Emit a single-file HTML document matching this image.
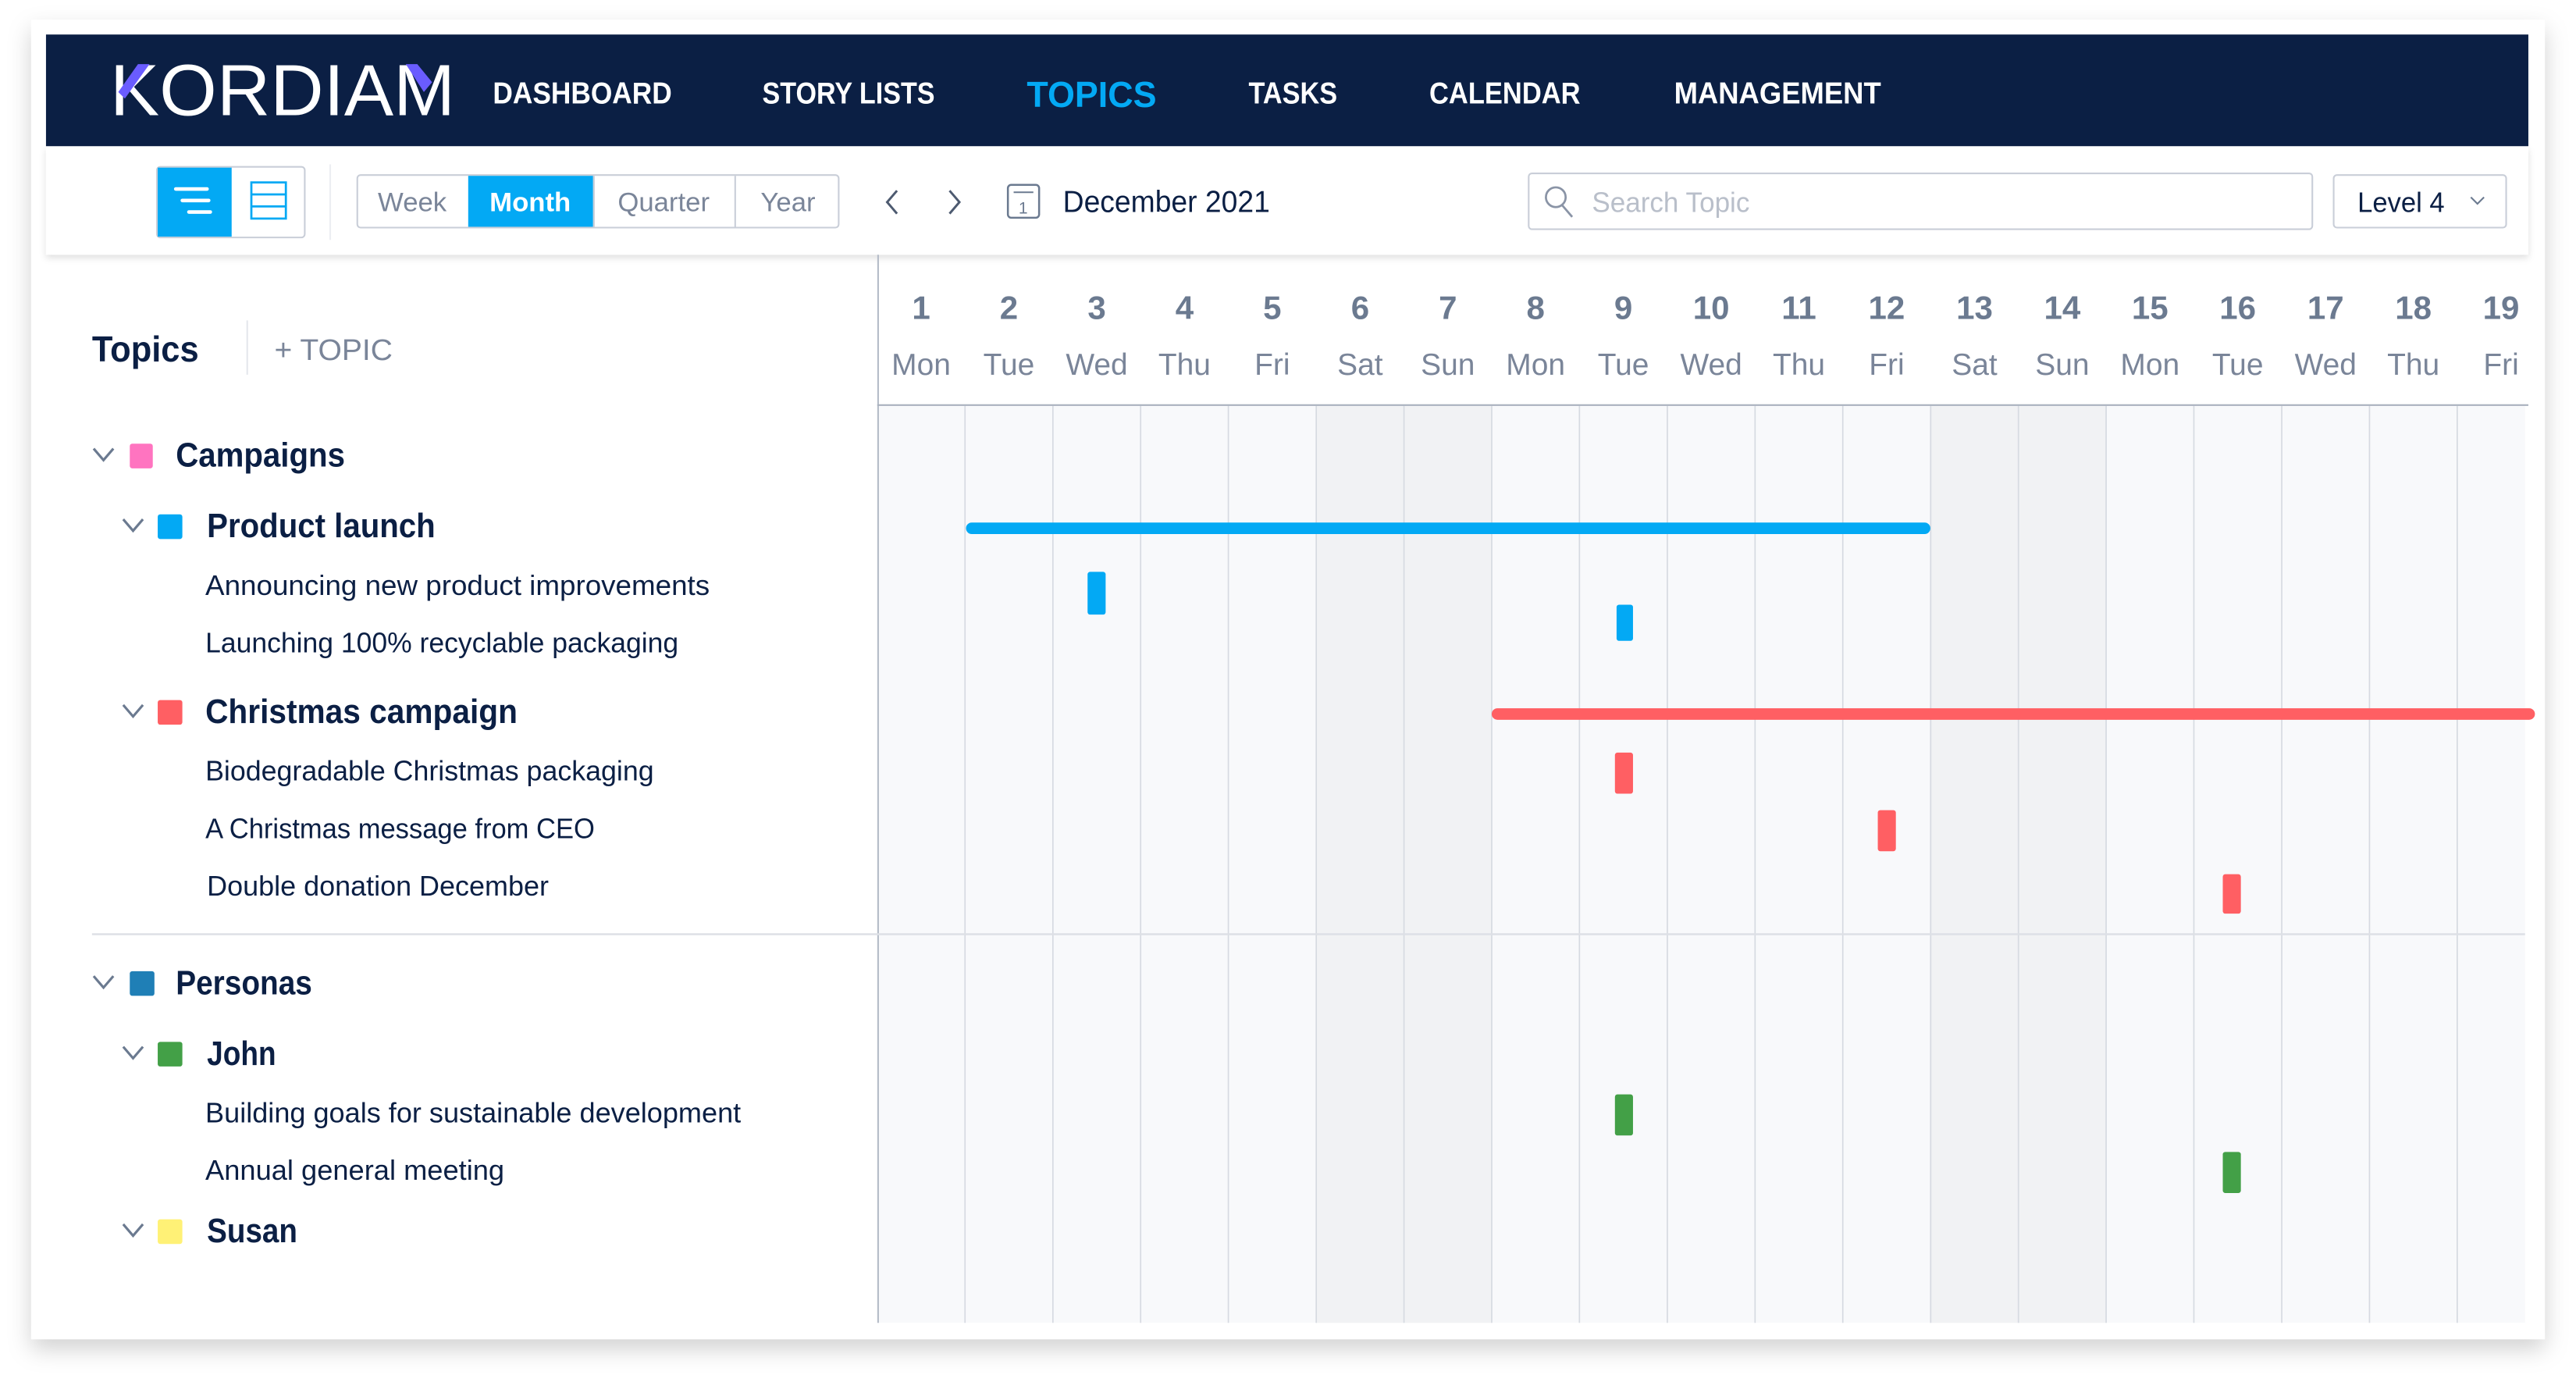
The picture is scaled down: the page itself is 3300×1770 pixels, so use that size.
<!DOCTYPE html>
<html><head><meta charset="utf-8"><style>
html,body{margin:0;padding:0;background:#fff;width:3300px;height:1770px;overflow:hidden}
svg{display:block}
text{font-family:"Liberation Sans",sans-serif}
</style></head><body>
<svg width="3300" height="1770" viewBox="0 0 1568 841" xmlns="http://www.w3.org/2000/svg">
<defs>
<filter id="sh" x="-5%" y="-5%" width="110%" height="115%"><feDropShadow dx="0" dy="6" stdDeviation="7" flood-color="#000" flood-opacity="0.18"/></filter>
<filter id="sh2" x="-5%" y="-50%" width="110%" height="200%"><feDropShadow dx="0" dy="2" stdDeviation="2" flood-color="#000" flood-opacity="0.12"/></filter>
</defs>
<rect width="1568" height="841" fill="#fff"/>
<rect x="19" y="12" width="1530" height="803" fill="#fff" filter="url(#sh)"/>
<!-- nav -->
<rect x="28" y="21" width="1511" height="68" fill="#0b1f44"/>
<text x="67" y="70" font-size="44" fill="#fff" textLength="210" lengthAdjust="spacingAndGlyphs">KORDIAM</text>
<path d="M72 56 L84 39 L91 39 L76 60 Z" fill="#6a5cff"/>
<path d="M247 39 L258 56 L263 50 L254 39 Z" fill="#6a5cff"/>
<g font-size="18.5" font-weight="bold" fill="#fff">
<text x="300" y="63" textLength="109" lengthAdjust="spacingAndGlyphs">DASHBOARD</text>
<text x="464" y="63" textLength="105" lengthAdjust="spacingAndGlyphs">STORY LISTS</text>
<text x="625" y="65" font-size="22" fill="#03a9f4" textLength="79" lengthAdjust="spacingAndGlyphs">TOPICS</text>
<text x="760" y="63" textLength="54" lengthAdjust="spacingAndGlyphs">TASKS</text>
<text x="870" y="63" textLength="92" lengthAdjust="spacingAndGlyphs">CALENDAR</text>
<text x="1019" y="63" textLength="126" lengthAdjust="spacingAndGlyphs">MANAGEMENT</text>
</g>
<!-- toolbar -->
<rect x="28" y="89" width="1511" height="66" fill="#fff" filter="url(#sh2)"/>
<rect x="95.5" y="101.5" width="90" height="43" rx="2" fill="#fff" stroke="#c9ced8"/>
<rect x="96" y="102" width="45" height="42" fill="#03a9f4"/>
<g stroke="#fff" stroke-width="2.2" stroke-linecap="round"><line x1="107" y1="115" x2="126" y2="115"/><line x1="111" y1="122" x2="127" y2="122"/><line x1="115" y1="129" x2="128" y2="129"/></g>
<g fill="none" stroke="#03a9f4" stroke-width="1.3"><rect x="153" y="111" width="21" height="22"/><line x1="153" y1="118.3" x2="174" y2="118.3"/><line x1="153" y1="125.6" x2="174" y2="125.6"/></g>
<line x1="201" y1="100" x2="201" y2="146" stroke="#eceef2"/>
<rect x="217.5" y="106.5" width="293" height="32" rx="2" fill="#fff" stroke="#c9ced8"/>
<rect x="285" y="107" width="76" height="31" fill="#03a9f4"/>
<line x1="361.5" y1="107" x2="361.5" y2="138" stroke="#c9ced8"/>
<line x1="447.5" y1="107" x2="447.5" y2="138" stroke="#c9ced8"/>
<g font-size="16.5" fill="#7a8599">
<text x="230" y="128.5">Week</text>
<text x="298" y="128.5" fill="#fff" font-weight="bold">Month</text>
<text x="376" y="128.5">Quarter</text>
<text x="463" y="128.5">Year</text>
</g>
<g fill="none" stroke="#4d5a70" stroke-width="1.4"><polyline points="546,116 540,123 546,130"/><polyline points="578,116 584,123 578,130"/></g>
<rect x="613.5" y="112.5" width="19" height="20" rx="2" fill="none" stroke="#6b7a90" stroke-width="1.2"/>
<line x1="617" y1="117" x2="629" y2="117" stroke="#6b7a90"/>
<text x="620" y="130" font-size="10" fill="#6b7a90">1</text>
<text x="647" y="129" font-size="18.5" fill="#0b1f44" textLength="126" lengthAdjust="spacingAndGlyphs">December 2021</text>
<rect x="930.5" y="105.5" width="477" height="34" rx="2" fill="#fff" stroke="#c9ced8"/>
<circle cx="947" cy="120" r="6" fill="none" stroke="#8a94a6" stroke-width="1.3"/>
<line x1="951" y1="125" x2="957" y2="132" stroke="#8a94a6" stroke-width="1.3"/>
<text x="969" y="129" font-size="17" fill="#b9bfca" textLength="96" lengthAdjust="spacingAndGlyphs">Search Topic</text>
<rect x="1420.5" y="106.5" width="105" height="32" rx="2" fill="#fff" stroke="#c9ced8"/>
<text x="1435" y="129" font-size="17" fill="#0b1f44" textLength="53" lengthAdjust="spacingAndGlyphs">Level 4</text>
<polyline points="1504,120 1508,124 1512,120" fill="none" stroke="#6b7a90"/>
<!-- timeline grid -->
<rect x="534" y="247" width="1003" height="558" fill="#f8f9fb"/>
<rect x="801.2" y="247" width="106.9" height="558" fill="#f1f2f4"/>
<rect x="1175.2" y="247" width="106.9" height="558" fill="#f1f2f4"/>
<g stroke="#d6dae1" stroke-width="0.8">
<line x1="587.4" y1="247" x2="587.4" y2="805"/><line x1="640.9" y1="247" x2="640.9" y2="805"/><line x1="694.3" y1="247" x2="694.3" y2="805"/><line x1="747.7" y1="247" x2="747.7" y2="805"/><line x1="801.2" y1="247" x2="801.2" y2="805"/><line x1="854.6" y1="247" x2="854.6" y2="805"/><line x1="908" y1="247" x2="908" y2="805"/><line x1="961.4" y1="247" x2="961.4" y2="805"/><line x1="1014.9" y1="247" x2="1014.9" y2="805"/><line x1="1068.3" y1="247" x2="1068.3" y2="805"/><line x1="1121.7" y1="247" x2="1121.7" y2="805"/><line x1="1175.2" y1="247" x2="1175.2" y2="805"/><line x1="1228.6" y1="247" x2="1228.6" y2="805"/><line x1="1282" y1="247" x2="1282" y2="805"/><line x1="1335.4" y1="247" x2="1335.4" y2="805"/><line x1="1388.9" y1="247" x2="1388.9" y2="805"/><line x1="1442.3" y1="247" x2="1442.3" y2="805"/><line x1="1495.7" y1="247" x2="1495.7" y2="805"/>
</g>
<line x1="534.5" y1="155" x2="534.5" y2="805" stroke="#b5bcc8" stroke-width="1"/>
<line x1="534" y1="246.5" x2="1539" y2="246.5" stroke="#a9b1be" stroke-width="1"/>
<line x1="56" y1="568.5" x2="1537" y2="568.5" stroke="#dde0e6" stroke-width="1.2"/>
<!-- day headers -->
<g font-size="20" fill="#6b7a90" text-anchor="middle" font-weight="bold">
<text x="560.7" y="194">1</text><text x="614.1" y="194">2</text><text x="667.6" y="194">3</text><text x="721" y="194">4</text><text x="774.4" y="194">5</text><text x="827.9" y="194">6</text><text x="881.3" y="194">7</text><text x="934.7" y="194">8</text><text x="988.1" y="194">9</text><text x="1041.6" y="194">10</text><text x="1095" y="194">11</text><text x="1148.4" y="194">12</text><text x="1201.9" y="194">13</text><text x="1255.3" y="194">14</text><text x="1308.7" y="194">15</text><text x="1362.1" y="194">16</text><text x="1415.6" y="194">17</text><text x="1469" y="194">18</text><text x="1522.4" y="194">19</text>
</g>
<g font-size="18.5" fill="#7a8599" text-anchor="middle">
<text x="560.7" y="228">Mon</text><text x="614.1" y="228">Tue</text><text x="667.6" y="228">Wed</text><text x="721" y="228">Thu</text><text x="774.4" y="228">Fri</text><text x="827.9" y="228">Sat</text><text x="881.3" y="228">Sun</text><text x="934.7" y="228">Mon</text><text x="988.1" y="228">Tue</text><text x="1041.6" y="228">Wed</text><text x="1095" y="228">Thu</text><text x="1148.4" y="228">Fri</text><text x="1201.9" y="228">Sat</text><text x="1255.3" y="228">Sun</text><text x="1308.7" y="228">Mon</text><text x="1362.1" y="228">Tue</text><text x="1415.6" y="228">Wed</text><text x="1469" y="228">Thu</text><text x="1522.4" y="228">Fri</text>
</g>
<!-- bars -->
<rect x="588" y="318" width="587" height="7" rx="3.5" fill="#03a9f4"/>
<rect x="662" y="348" width="11" height="26" rx="1.5" fill="#03a9f4"/>
<rect x="984" y="368" width="10" height="22" rx="1.5" fill="#03a9f4"/>
<rect x="908" y="431" width="635" height="7" rx="3.5" fill="#ff5f63"/>
<rect x="983" y="458" width="11" height="25" rx="1.5" fill="#ff5f63"/>
<rect x="1143" y="493" width="11" height="25" rx="1.5" fill="#ff5f63"/>
<rect x="1353" y="532" width="11" height="24" rx="1.5" fill="#ff5f63"/>
<rect x="983" y="666" width="11" height="25" rx="1.5" fill="#43a047"/>
<rect x="1353" y="701" width="11" height="25" rx="1.5" fill="#43a047"/>
<!-- left panel -->
<text x="56" y="220" font-size="22" font-weight="bold" fill="#0b1f44" textLength="65" lengthAdjust="spacingAndGlyphs">Topics</text>
<line x1="150.5" y1="195" x2="150.5" y2="228" stroke="#e4e7ec"/>
<text x="167" y="219" font-size="18" fill="#7a8599" textLength="72" lengthAdjust="spacingAndGlyphs">+ TOPIC</text>
<g fill="none" stroke="#6b7a90" stroke-width="1.5">
<polyline points="57,273 63,280 69,273"/><polyline points="75,316 81,323 87,316"/><polyline points="75,429 81,436 87,429"/>
<polyline points="57,594 63,601 69,594"/><polyline points="75,637 81,644 87,637"/><polyline points="75,745 81,752 87,745"/>
</g>
<rect x="79" y="270" width="14" height="15" rx="1.5" fill="#ff74c0"/>
<rect x="96" y="313" width="15" height="15" rx="1.5" fill="#03a9f4"/>
<rect x="96" y="426" width="15" height="15" rx="1.5" fill="#ff5f63"/>
<rect x="79" y="591" width="15" height="15" rx="1.5" fill="#1f7fb6"/>
<rect x="96" y="634" width="15" height="15" rx="1.5" fill="#43a047"/>
<rect x="96" y="742" width="15" height="15" rx="1.5" fill="#fff176"/>
<g font-size="20.5" font-weight="bold" fill="#0b1f44">
<text x="107" y="284" textLength="103" lengthAdjust="spacingAndGlyphs">Campaigns</text>
<text x="126" y="327" textLength="139" lengthAdjust="spacingAndGlyphs">Product launch</text>
<text x="125" y="440" textLength="190" lengthAdjust="spacingAndGlyphs">Christmas campaign</text>
<text x="107" y="605" textLength="83" lengthAdjust="spacingAndGlyphs">Personas</text>
<text x="126" y="648" textLength="42" lengthAdjust="spacingAndGlyphs">John</text>
<text x="126" y="756" textLength="55" lengthAdjust="spacingAndGlyphs">Susan</text>
</g>
<g font-size="17" fill="#0b1f44">
<text x="125" y="362" textLength="307" lengthAdjust="spacingAndGlyphs">Announcing new product improvements</text>
<text x="125" y="397" textLength="288" lengthAdjust="spacingAndGlyphs">Launching 100% recyclable packaging</text>
<text x="125" y="475" textLength="273" lengthAdjust="spacingAndGlyphs">Biodegradable Christmas packaging</text>
<text x="125" y="510" textLength="237" lengthAdjust="spacingAndGlyphs">A Christmas message from CEO</text>
<text x="126" y="545" textLength="208" lengthAdjust="spacingAndGlyphs">Double donation December</text>
<text x="125" y="683" textLength="326" lengthAdjust="spacingAndGlyphs">Building goals for sustainable development</text>
<text x="125" y="718" textLength="182" lengthAdjust="spacingAndGlyphs">Annual general meeting</text>
</g>
</svg>
</body></html>
